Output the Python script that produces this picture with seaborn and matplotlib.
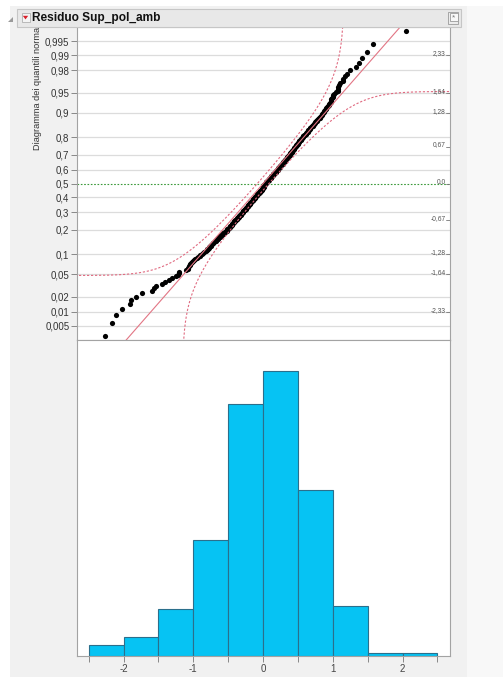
import numpy as np
import pandas as pd
import seaborn as sns
import matplotlib
matplotlib.use("Agg")
import matplotlib.pyplot as plt
import matplotlib.transforms as mtransforms
from matplotlib.patches import Rectangle, Polygon
from statistics import NormalDist

# Residuals of Sup_pol_amb, sorted, split by range
resid_left_tail = [
    -2.27, -2.17, -2.11, -2.02,
    -1.91, -1.89, -1.82, -1.73, -1.59, -1.56, -1.53,
    -1.45, -1.40, -1.35, -1.30, -1.25, -1.22, -1.21, -1.20, -1.10,
    -1.08, -1.07, -1.06, -1.05, -1.04, -1.03, -1.02, -1.01,
]
resid_neg = [
    -0.99, -0.97, -0.95, -0.93, -0.91, -0.90, -0.88, -0.86, -0.84, -0.82,
    -0.81, -0.80, -0.79, -0.78, -0.77, -0.76, -0.75, -0.74, -0.73, -0.72,
    -0.71, -0.70, -0.69, -0.68, -0.67, -0.66, -0.65, -0.64, -0.63, -0.62,
    -0.61, -0.60, -0.59, -0.58, -0.57, -0.56, -0.55, -0.54, -0.53, -0.52,
    -0.515, -0.51,
    -0.50, -0.49, -0.49, -0.48, -0.47, -0.47, -0.46, -0.45, -0.45, -0.44,
    -0.43, -0.43, -0.42, -0.41, -0.41, -0.40, -0.40, -0.39, -0.38, -0.38,
    -0.37, -0.36, -0.36, -0.35, -0.35, -0.34, -0.33, -0.33, -0.32, -0.32,
    -0.31, -0.30, -0.30, -0.29, -0.29, -0.28, -0.28, -0.27, -0.26, -0.26,
    -0.25, -0.25, -0.24, -0.24, -0.23, -0.23, -0.22, -0.22, -0.21, -0.21,
    -0.20, -0.20, -0.19, -0.19, -0.18, -0.18, -0.17, -0.17, -0.16, -0.16,
    -0.15, -0.15, -0.14, -0.14, -0.13, -0.13, -0.12, -0.12, -0.11, -0.11,
    -0.10, -0.10, -0.09, -0.09, -0.08, -0.08, -0.07, -0.07, -0.06, -0.06,
    -0.05, -0.05, -0.04, -0.04, -0.03, -0.03, -0.02, -0.02, -0.01, -0.01,
    -0.005,
]
resid_pos = [
    0.00, 0.00, 0.00, 0.01, 0.01, 0.01, 0.02, 0.02, 0.02, 0.03,
    0.03, 0.04, 0.04, 0.05, 0.05, 0.06, 0.06, 0.07, 0.07, 0.08,
    0.08, 0.09, 0.09, 0.10, 0.10, 0.11, 0.11, 0.12, 0.12, 0.13,
    0.13, 0.14, 0.14, 0.15, 0.15, 0.16, 0.16, 0.17, 0.17, 0.18,
    0.18, 0.19, 0.19, 0.20, 0.20, 0.21, 0.21, 0.22, 0.22, 0.23,
    0.23, 0.24, 0.24, 0.25, 0.25, 0.26, 0.26, 0.27, 0.27, 0.28,
    0.28, 0.29, 0.29, 0.30, 0.30, 0.31, 0.31, 0.32, 0.32, 0.33,
    0.33, 0.34, 0.34, 0.35, 0.35, 0.36, 0.36, 0.37, 0.37, 0.38,
    0.38, 0.39, 0.39, 0.40, 0.40, 0.41, 0.41, 0.42, 0.42, 0.43,
    0.43, 0.44, 0.44, 0.45, 0.45, 0.46, 0.46, 0.47, 0.48, 0.48,
    0.49, 0.49, 0.495,
    0.50, 0.50, 0.51, 0.52, 0.52, 0.53, 0.54, 0.54, 0.55, 0.56,
    0.56, 0.57, 0.58, 0.58, 0.59, 0.60, 0.61, 0.61, 0.62, 0.63,
    0.64, 0.64, 0.65, 0.66, 0.67, 0.68, 0.68, 0.69, 0.70, 0.71,
    0.72, 0.73, 0.73, 0.74, 0.75, 0.76, 0.77, 0.78, 0.79, 0.80,
    0.81, 0.82, 0.83, 0.84, 0.85, 0.86, 0.87, 0.88, 0.89, 0.90,
    0.91, 0.92, 0.93, 0.94, 0.95, 0.96, 0.97, 0.97, 0.98, 0.99,
]
resid_right_tail = [
    1.00, 1.01, 1.02, 1.05, 1.07, 1.08, 1.08, 1.09, 1.11, 1.14,
    1.15, 1.17, 1.20, 1.25, 1.34, 1.38, 1.42, 1.49,
    1.57, 2.05,
]

prob_ticks = [0.005, 0.01, 0.02, 0.05, 0.1, 0.2, 0.3, 0.4, 0.5, 0.6, 0.7,
              0.8, 0.9, 0.95, 0.98, 0.99, 0.995]
prob_labels = ["0,005", "0,01", "0,02", "0,05", "0,1", "0,2", "0,3", "0,4",
               "0,5", "0,6", "0,7", "0,8", "0,9", "0,95", "0,98", "0,99", "0,995"]
z_ticks = [-2.33, -1.64, -1.28, -0.67, 0.0, 0.67, 1.28, 1.64, 2.33]
z_labels = ["-2,33", "-1,64", "-1,28", "-0,67", "0,0", "0,67", "1,28", "1,64", "2,33"]
hist_edges = [-2.5, -2.0, -1.5, -1.0, -0.5, 0.0, 0.5, 1.0, 1.5, 2.0, 2.5]
x_ticks = [-2, -1, 0, 1, 2]
x_tick_labels = ["-2", "-1", "0", "1", "2"]

sns.set_theme(style="white")
plt.rcParams["font.family"] = ["Liberation Sans", "DejaVu Sans"]

W, H = 503, 677
fig = plt.figure(figsize=(W / 100, H / 100), dpi=100, facecolor="white")


def fx(px):
    return px / W


def fy(py):
    return 1 - py / H


# report panel background
fig.add_artist(Rectangle((fx(10), 0), fx(467) - fx(10), fy(6), transform=fig.transFigure,
                         facecolor="#f1f1f1", edgecolor="none", zorder=-5))
fig.add_artist(Rectangle((fx(467), 0), 1 - fx(467), fy(6), transform=fig.transFigure,
                         facecolor="#f8f8f8", edgecolor="none", zorder=-5))

XLIM = (-2.667, 2.681)
ax_q = fig.add_axes([fx(77), fy(340), fx(450) - fx(77), fy(27) - fy(340)])
ax_h = fig.add_axes([fx(77), fy(656), fx(450) - fx(77), fy(340) - fy(656)])

data = np.sort(np.array(resid_left_tail + resid_neg + resid_pos + resid_right_tail))
n = len(data)
nd = NormalDist()
zq = np.array([nd.inv_cdf(i / (n + 1)) for i in range(1, n + 1)])
mean, sd = data.mean(), data.std(ddof=1)
df = pd.DataFrame({"residuo": data, "z": zq})

spine_col = "#a3a3a3"
for ax in (ax_q, ax_h):
    ax.set_facecolor("white")
    for s in ax.spines.values():
        s.set_color(spine_col)
        s.set_linewidth(0.8)

# ---- normal quantile plot ----
z_grid = [nd.inv_cdf(p) for p in prob_ticks]
for p, zg in zip(prob_ticks, z_grid):
    if p == 0.5:
        ax_q.axhline(zg, color="#3a9a3a", lw=0.8, ls=(0, (1.5, 1.5)), zorder=2)
    else:
        ax_q.axhline(zg, color="#dcdcdc", lw=0.9, zorder=1)

sns.scatterplot(data=df, x="residuo", y="z", ax=ax_q, color="black", s=14,
                linewidth=0, zorder=3, legend=False)

zz = np.linspace(-3.2, 3.2, 50)
ax_q.plot(mean + sd * zz, zz, color="#e27584", lw=0.8, zorder=4)

# Lilliefors confidence bounds
D = 0.886 / np.sqrt(n)
g = np.logspace(-10, -0.4, 300)
for sign in (1, -1):
    lo, hi = (0.0, 1 - D) if sign > 0 else (D, 1.0)
    p = np.unique(np.concatenate([lo + g, hi - g, np.linspace(lo, hi, 400)[1:-1]]))
    p = p[(p > lo) & (p < hi)]
    zb = [nd.inv_cdf(v) for v in p]
    xb = [mean + sd * nd.inv_cdf(v + sign * D) for v in p]
    ax_q.plot(xb, zb, color="#e06a80", lw=0.8, ls=(0, (2, 1.6)), zorder=4)

ax_q.set_xlim(*XLIM)
ax_q.set_ylim(-2.835, 2.835)
ax_q.set_xticks([])
ax_q.set_xlabel("")
ax_q.set_ylabel("")
ax_q.set_yticks(z_grid)
ax_q.set_yticklabels(prob_labels)
ax_q.tick_params(axis="y", left=True, length=4, width=0.7, color="#888888",
                 labelsize=7, labelcolor="#333333", pad=1.5)

blend = mtransforms.blended_transform_factory(ax_q.transAxes, ax_q.transData)
for zt, lab in zip(z_ticks, z_labels):
    ax_q.text(0.988, zt + 0.032, lab, transform=blend, ha="right", va="center",
              fontsize=4.8, color="#555555", zorder=5)
    ax_q.plot([0.988, 1.0], [zt, zt], transform=blend, color="#777777", lw=0.6, zorder=5)

# ---- histogram ----
sns.histplot(x=data, bins=hist_edges, ax=ax_h, color="#06c3f3", edgecolor="#2b6f8c",
             linewidth=0.8, alpha=1)
ax_h.set_xlim(*XLIM)
ax_h.set_ylim(0, 114.3)
ax_h.set_yticks([])
ax_h.set_ylabel("")
ax_h.set_xlabel("")
ax_h.set_xticks(x_ticks)
ax_h.set_xticklabels(x_tick_labels)
ax_h.set_xticks(hist_edges, minor=True)
ax_h.tick_params(axis="x", which="both", bottom=True, length=4, width=0.7, color="#888888")
ax_h.tick_params(axis="x", which="major", labelsize=7, labelcolor="#444444", pad=2)

# axis caption of the quantile plot
fig.text(fx(37), fy(150), "Diagramma dei quantili normali", rotation=90, ha="center",
         va="bottom", fontsize=6.6, color="#333333", zorder=2)

# ---- outline title bar ----
fig.add_artist(Rectangle((fx(17), fy(27)), fx(461) - fx(17), fy(9) - fy(27),
                         transform=fig.transFigure, facecolor="#e8e8e8",
                         edgecolor="#c6c6c6", lw=0.8, zorder=10))
fig.add_artist(Polygon([(fx(13), fy(16.5)), (fx(13), fy(21.5)), (fx(8), fy(21.5))],
                       closed=True, transform=fig.transFigure, facecolor="#9a9a9a",
                       edgecolor="none", zorder=11))
fig.add_artist(Rectangle((fx(21.5), fy(21.5)), fx(8), fy(13.5) - fy(21.5),
                         transform=fig.transFigure, facecolor="#f4f4f4",
                         edgecolor="#b0b0b0", lw=0.6, zorder=11))
fig.add_artist(Polygon([(fx(22.8), fy(15.8)), (fx(28.2), fy(15.8)), (fx(25.5), fy(19.4))],
                       closed=True, transform=fig.transFigure, facecolor="#d8202a",
                       edgecolor="none", zorder=12))
fig.text(fx(32), fy(18), "Residuo Sup_pol_amb", fontsize=8.6, fontweight="bold",
         ha="left", va="center", color="#111111", zorder=12)
fig.add_artist(Rectangle((fx(447.5), fy(23.5)), fx(10), fy(12.5) - fy(23.5),
                         transform=fig.transFigure, facecolor="#ececec",
                         edgecolor="#9a9a9a", lw=0.6, zorder=11))
fig.add_artist(Rectangle((fx(450), fy(21)), fx(7.5), fy(13) - fy(21),
                         transform=fig.transFigure, facecolor="#f8f8f8",
                         edgecolor="#9a9a9a", lw=0.6, zorder=12))
fig.text(fx(453.8), fy(17.5), "*", fontsize=6, ha="center", va="center",
         color="#777777", zorder=13)

fig.savefig("out.png", dpi=100, facecolor=fig.get_facecolor())
